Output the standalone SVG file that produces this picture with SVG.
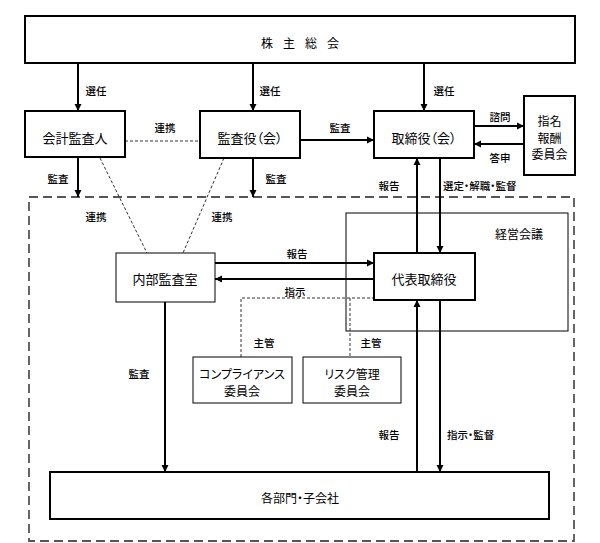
<svg xmlns="http://www.w3.org/2000/svg" width="600" height="543" viewBox="0 0 600 543">
<style>
text{font-family:"Noto Sans CJK JP","Noto Sans",sans-serif;fill:#000;font-feature-settings:"palt";dominant-baseline:central;text-anchor:middle}
.box{fill:#fff;stroke:#000;stroke-width:2}
.thin{fill:#fff;stroke:#000;stroke-width:1}
.t{font-size:13px}
.s{font-size:12px}
.l{font-size:10.5px;font-weight:500}
.arr{stroke:#000;stroke-width:2;fill:none;marker-end:url(#ah)}
.ln{stroke:#000;stroke-width:2;fill:none}
.dsh{stroke:#333;stroke-width:1;fill:none;stroke-dasharray:3 2}
</style>
<defs>
<marker id="ah" markerUnits="userSpaceOnUse" markerWidth="8" markerHeight="8" refX="7" refY="4" orient="auto">
<path d="M0,0.5 L7,4 L0,7.5 z" fill="#000"/>
</marker>
</defs>
<g id="frame">
<rect x="29" y="197" width="545" height="344" fill="none" stroke="#555" stroke-width="1.8" stroke-dasharray="9 5"/>
</g>
<g id="keiei">
<rect x="346" y="213" width="222" height="118" fill="none" stroke="#000" stroke-width="1"/>
<text class="s" x="519" y="233">経営会議</text>
</g>
<g id="connectors">
<line class="arr" x1="78" y1="63" x2="78" y2="111"/>
<line class="arr" x1="253" y1="63" x2="253" y2="111"/>
<line class="arr" x1="424" y1="63" x2="424" y2="111"/>
<line class="dsh" x1="125" y1="141" x2="200" y2="141"/>
<line class="arr" x1="300" y1="140" x2="374" y2="140"/>
<line class="arr" x1="474" y1="126" x2="524" y2="126"/>
<line class="arr" x1="524" y1="144" x2="474" y2="144"/>
<line class="arr" x1="78" y1="157" x2="78" y2="197"/>
<line class="arr" x1="253" y1="158" x2="253" y2="197"/>
<line class="dsh" x1="100" y1="158" x2="147" y2="253"/>
<line class="dsh" x1="224" y1="158" x2="183" y2="253"/>
<line class="arr" x1="417" y1="253" x2="417" y2="158"/>
<line class="arr" x1="440" y1="158" x2="440" y2="253"/>
<line class="arr" x1="215" y1="263" x2="374" y2="263"/>
<line class="arr" x1="374" y1="279" x2="215" y2="279"/>
<polyline class="dsh" points="241,357 241,298 374,298"/>
<line class="dsh" x1="350" y1="298" x2="350" y2="357"/>
<line class="arr" x1="165" y1="302" x2="165" y2="472"/>
<line class="arr" x1="417" y1="472" x2="417" y2="300"/>
<line class="arr" x1="440" y1="300" x2="440" y2="472"/>
<text class="l" x="96" y="90">選任</text>
<text class="l" x="270" y="90">選任</text>
<text class="l" x="444" y="90">選任</text>
<text class="l" x="165" y="127">連携</text>
<text class="l" x="340" y="127">監査</text>
<text class="l" x="500" y="116">諮問</text>
<text class="l" x="500" y="157">答申</text>
<text class="l" x="58" y="178">監査</text>
<text class="l" x="276" y="178">監査</text>
<text class="l" x="389" y="185">報告</text>
<text class="l" x="443" y="185" style="text-anchor:start">選定・解職・監督</text>
<text class="l" x="96" y="216">連携</text>
<text class="l" x="222" y="216">連携</text>
<text class="l" x="297" y="253">報告</text>
<text class="l" x="295" y="291">指示</text>
<text class="l" x="264" y="342">主管</text>
<text class="l" x="371" y="342">主管</text>
<text class="l" x="139" y="373">監査</text>
<text class="l" x="389" y="434">報告</text>
<text class="l" x="447" y="434" style="text-anchor:start">指示・監督</text>
</g>
<g id="shareholders">
<rect class="box" x="25" y="16" width="550" height="47"/>
<text class="s" x="305" y="42" style="letter-spacing:10px">株主総会</text>
</g>
<g id="auditor">
<rect class="box" x="25" y="111" width="100" height="46"/>
<text class="t" x="75" y="137">会計監査人</text>
</g>
<g id="kansayaku">
<rect class="box" x="200" y="111" width="100" height="47"/>
<text class="t" x="250" y="137">監査役（会）</text>
</g>
<g id="board">
<rect class="box" x="374" y="111" width="100" height="47"/>
<text class="t" x="424" y="137">取締役（会）</text>
</g>
<g id="nomination">
<rect class="box" x="524" y="96" width="51" height="79"/>
<text class="s" x="549.5" y="120">指名</text>
<text class="s" x="549.5" y="137">報酬</text>
<text class="s" x="549.5" y="153">委員会</text>
</g>
<g id="internal-audit">
<rect class="thin" x="116" y="253" width="99" height="49"/>
<text class="t" x="165" y="278">内部監査室</text>
</g>
<g id="ceo">
<rect class="box" x="374" y="253" width="101" height="47"/>
<text class="t" x="424" y="278">代表取締役</text>
</g>
<g id="compliance">
<rect class="thin" x="193" y="357" width="99" height="46"/>
<text class="s" x="242" y="373">コンプライアンス</text>
<text class="s" x="242" y="390">委員会</text>
</g>
<g id="risk">
<rect class="thin" x="303" y="357" width="98" height="46"/>
<text class="s" x="352" y="373">リスク管理</text>
<text class="s" x="352" y="390">委員会</text>
</g>
<g id="divisions">
<rect class="box" x="50" y="472" width="499" height="47"/>
<text class="s" x="300" y="497">各部門・子会社</text>
</g>
</svg>
